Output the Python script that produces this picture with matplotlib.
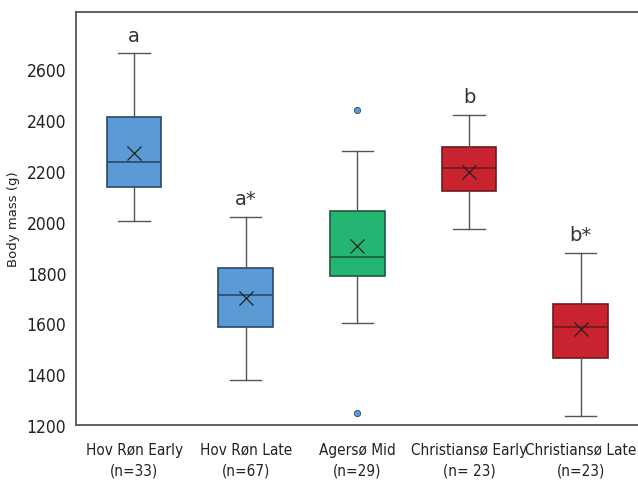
import matplotlib
matplotlib.use("Agg")
import matplotlib.pyplot as plt

plt.rcParams['font.family'] = ['DejaVu Sans']
plt.rcParams['font.stretch'] = 'condensed'

# groups and summary stats (g)
groups  = ["Hov Røn Early\n(n=33)", "Hov Røn Late\n(n=67)", "Agersø Mid\n(n=29)",
           "Christiansø Early\n(n= 23)", "Christiansø Late\n(n=23)"]
wlo     = [2003, 1377, 1602, 1971, 1235]
q1      = [2136, 1585, 1787, 2119, 1462]
med     = [2235, 1711, 1862, 2211, 1585]
q3      = [2411, 1817, 2043, 2294, 1676]
whi     = [2662, 2018, 2277, 2419, 1876]
means   = [2270, 1700, 1903, 2194, 1577]
fliers  = [[], [], [2440, 1248], [], []]
letters = ["a", "a*", "", "b", "b*"]

fills = ["#5b9bd5", "#5b9bd5", "#23b571", "#c8232e", "#c8232e"]
edges = ["#2b4866", "#2b4866", "#1c5a3a", "#6e1a1e", "#6e1a1e"]

stats = []
for i in range(len(groups)):
    stats.append(dict(whislo=wlo[i], q1=q1[i], med=med[i], q3=q3[i],
                      whishi=whi[i], mean=means[i], fliers=fliers[i]))

fig = plt.figure(figsize=(6.38, 4.81), dpi=100)
ax = fig.add_axes([76/638, 1-426/481, 1-76/638 + 0.01, 413/481])

pos = list(range(1, len(groups)+1))
bp = ax.bxp(stats, positions=pos, widths=0.49, patch_artist=True,
            showmeans=True, meanline=False,
            whiskerprops=dict(color="#555555", lw=1),
            capprops=dict(color="#555555", lw=1),
            flierprops=dict(marker="o", markersize=4.5, markerfacecolor="#5b9bd5",
                            markeredgecolor="#2b4866", markeredgewidth=0.6))
for i, b in enumerate(bp['boxes']):
    b.set_facecolor(fills[i])
    b.set_edgecolor(edges[i])
    b.set_linewidth(1.2)
    bp['medians'][i].set_color(edges[i])
    bp['medians'][i].set_linewidth(1.2)
    bp['means'][i].set_marker("x")
    bp['means'][i].set_markersize(10)
    bp['means'][i].set_markeredgecolor("#222222")
    bp['means'][i].set_markeredgewidth(0.9)
for c in bp['caps']:
    x0, x1 = c.get_xdata()
    xm = (x0 + x1) / 2
    c.set_xdata([xm - 0.14, xm + 0.14])

for i, t in enumerate(letters):
    if t:
        ax.text(pos[i], whi[i] + 50, t, ha="center", va="baseline",
                fontsize=14, color="#333333", fontstretch='normal')

ax.set_xlim(0.48, 5.57)
ax.set_ylim(1200, 2825)
ax.set_yticks([1200, 1400, 1600, 1800, 2000, 2200, 2400, 2600])
ax.set_xticks(pos)
ax.set_xticklabels(groups, fontsize=11, color="#222222", linespacing=1.45)
ax.tick_params(axis="y", labelsize=12.5, length=0, pad=7, labelcolor="#222222")
ax.tick_params(axis="x", length=0, pad=12)
ax.spines['right'].set_visible(False)
for s in ['left', 'top', 'bottom']:
    ax.spines[s].set_color("#555555")
    ax.spines[s].set_linewidth(1.3)
ax.set_ylabel("Body mass (g)", fontsize=9.5, color="#222222",
              fontstretch='normal', labelpad=5)

fig.savefig("out.png", dpi=100)
